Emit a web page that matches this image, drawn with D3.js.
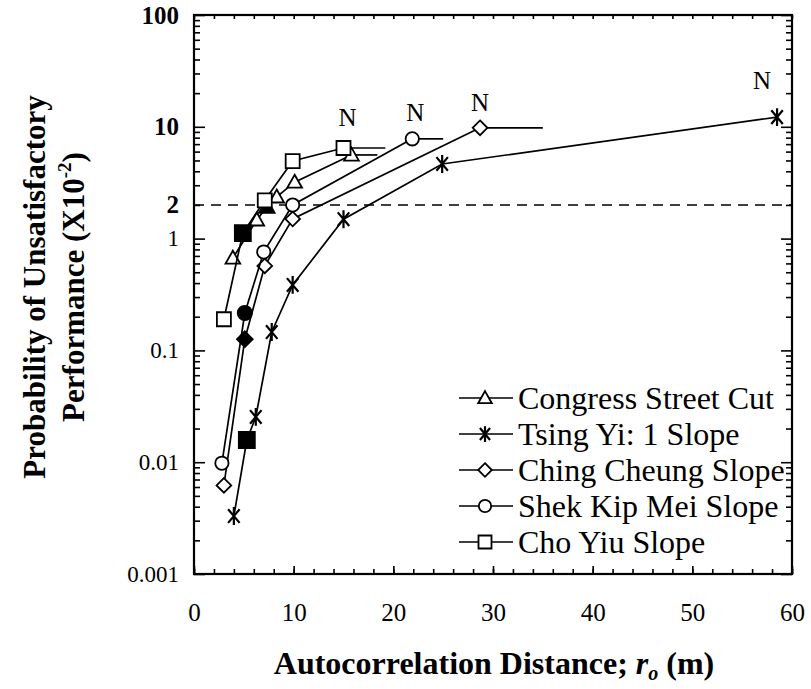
<!DOCTYPE html>
<html><head><meta charset="utf-8">
<script src="https://cdn.jsdelivr.net/npm/d3@7"></script>
<style>
body{margin:0;background:#fff;}
svg{display:block;}
</style></head>
<body>
<svg id="chart" width="811" height="689"></svg>
<script>
// ---- data ----
const seriesNames = ["Congress Street Cut","Tsing Yi: 1 Slope","Ching Cheung Slope","Shek Kip Mei Slope","Cho Yiu Slope"];
const seriesShapes = ["triangle","star","diamond","circle","square"];
const filledShapes = ["triangle","square","diamond","circle","square"];

const congressX = [3.9, 6.3, 7.3, 8.3, 10.1, 15.8];
const congressP = [0.67, 1.47, 1.92, 2.36, 3.2, 5.6];
const congressFilled = [0,0,1,0,0,0];

const tsingX = [4.0, 5.3, 6.2, 7.8, 9.9, 15.0, 24.9, 58.5];
const tsingP = [0.0033, 0.0158, 0.0254, 0.146, 0.385, 1.49, 4.65, 12.2];
const tsingFilled = [0,1,0,0,0,0,0,0];

const chingX = [3.0, 5.1, 7.1, 9.9, 28.7];
const chingP = [0.0062, 0.126, 0.57, 1.5, 9.8];
const chingFilled = [0,1,0,0,0];

const shekX = [2.8, 5.1, 7.0, 9.9, 21.9];
const shekP = [0.0098, 0.216, 0.76, 2.0, 7.8];
const shekFilled = [0,1,0,0,0];

const choX = [3.0, 4.9, 7.1, 9.9, 15.0];
const choP = [0.19, 1.12, 2.2, 4.94, 6.46];
const choFilled = [0,1,0,0,0];

const extendTo = [18.4, null, 35, 25, 19.2];

const thresholdP = 2;
const nLabelX = [15.4, 22.2, 28.7, 57.0];
const nLabelP = [12.2, 13.5, 16.7, 26.2];

const xTickLabels = [0,10,20,30,40,50,60];
const yTickLabels = [100,10,2,1,0.1,0.01,0.001];
const yBoldLabels = [100,10,2];

// ---- layout ----
const svg = d3.select("#chart");
const L = 194, R = 792, T = 15, B = 574;
const x = d3.scaleLinear().domain([0,60]).range([L,R]);
const y = d3.scaleLog().domain([0.001,100]).range([B,T]);
const serif = "'Liberation Serif','Times New Roman',serif";

const allX = [congressX,tsingX,chingX,shekX,choX];
const allP = [congressP,tsingP,chingP,shekP,choP];
const allF = [congressFilled,tsingFilled,chingFilled,shekFilled,choFilled];

const yMinor = [];
for (let e=-3;e<2;e++) for (let m=2;m<=9;m++) yMinor.push(m*Math.pow(10,e));
const yMajor = [0.001,0.01,0.1,1,10,100];
const xMinor = d3.range(0,61,2);

function styleAxis(g){
  g.select(".domain").remove();
  g.selectAll(".tick line").attr("stroke","#000").attr("stroke-width",1.6);
}
svg.append("g").attr("transform",`translate(${L},0)`)
  .call(d3.axisLeft(y).tickValues(yMinor).tickSize(-6).tickFormat("")).call(styleAxis);
svg.append("g").attr("transform",`translate(${L},0)`)
  .call(d3.axisLeft(y).tickValues(yMajor).tickSize(-11).tickFormat("")).call(styleAxis);
svg.append("g").attr("transform",`translate(${R},0)`)
  .call(d3.axisRight(y).tickValues(yMinor).tickSize(-6).tickFormat("")).call(styleAxis);
svg.append("g").attr("transform",`translate(${R},0)`)
  .call(d3.axisRight(y).tickValues(yMajor).tickSize(-11).tickFormat("")).call(styleAxis);
svg.append("g").attr("transform",`translate(0,${B})`)
  .call(d3.axisBottom(x).tickValues(xMinor).tickSize(-5).tickFormat("")).call(styleAxis);
svg.append("g").attr("transform",`translate(0,${B})`)
  .call(d3.axisBottom(x).tickValues(xTickLabels).tickSize(-8).tickFormat("")).call(styleAxis);
svg.append("g").attr("transform",`translate(0,${T})`)
  .call(d3.axisTop(x).tickValues(xMinor).tickSize(-4).tickFormat("")).call(styleAxis);

// tick labels
const yLab = svg.append("g").attr("transform",`translate(${L},0)`)
  .call(d3.axisLeft(y).tickValues(yTickLabels).tickSize(0).tickPadding(15)
    .tickFormat(d => String(d)));
yLab.select(".domain").remove();
yLab.selectAll("text").attr("font-family",serif).attr("fill","#000")
  .attr("font-size",d => yBoldLabels.includes(d) ? 25 : 23)
  .attr("font-weight",d => yBoldLabels.includes(d) ? "bold" : "normal");

const xLab = svg.append("g").attr("transform",`translate(0,${B})`)
  .call(d3.axisBottom(x).tickValues(xTickLabels).tickSize(0).tickPadding(29));
xLab.select(".domain").remove();
xLab.selectAll("text").attr("font-family",serif).attr("font-size",25).attr("fill","#000");

// frame
svg.append("rect").attr("x",L).attr("y",T).attr("width",R-L).attr("height",B-T)
  .attr("fill","none").attr("stroke","#000").attr("stroke-width",2.2);

// threshold dashed line
svg.append("line").attr("x1",x(0)).attr("x2",x(60)).attr("y1",y(thresholdP)).attr("y2",y(thresholdP))
  .attr("stroke","#000").attr("stroke-width",1.6).attr("stroke-dasharray","10,7");

function markerPath(shape, s){
  const h = s/2;
  switch(shape){
    case "square": return `M${-h},${-h}H${h}V${h}H${-h}Z`;
    case "triangle": return `M0,${-h*1.05}L${h*1.05},${h*0.8}L${-h*1.05},${h*0.8}Z`;
    case "diamond": return `M0,${-h*1.05}L${h*1.05},0L0,${h*1.05}L${-h*1.05},0Z`;
    case "circle": return d3.arc()({innerRadius:0,outerRadius:h*0.95,startAngle:0,endAngle:2*Math.PI});
    case "star": {
      const a = h*1.05, c = Math.cos(Math.PI*50/180)*a, sn = Math.sin(Math.PI*50/180)*a;
      return `M0,${-a}V${a}M${-c},${-sn}L${c},${sn}M${-c},${sn}L${c},${-sn}`;
    }
  }
}

const line = d3.line().x(d=>x(d[0])).y(d=>y(d[1]));

seriesNames.forEach((name,i)=>{
  const pts = allX[i].map((xv,j)=>[xv, allP[i][j], allF[i][j]]);
  const g = svg.append("g");
  g.append("path").attr("d",line(pts)).attr("fill","none").attr("stroke","#000").attr("stroke-width",1.7);
  if (extendTo[i] != null){
    const last = pts[pts.length-1];
    g.append("path").attr("d",line([[last[0],last[1]],[extendTo[i],last[1]]]))
      .attr("fill","none").attr("stroke","#000").attr("stroke-width",1.7);
  }
  g.selectAll("path.m").data(pts).join("path").attr("class","m")
    .attr("transform",d=>`translate(${x(d[0])},${y(d[1])})`)
    .attr("d",d=> d[2] ? markerPath(filledShapes[i], filledShapes[i]==="square"?16:15) : markerPath(seriesShapes[i], seriesShapes[i]==="star"?17:14))
    .attr("fill",d=> d[2] ? "#000" : (seriesShapes[i]==="star"?"none":"#fff"))
    .attr("stroke","#000").attr("stroke-width",d=> seriesShapes[i]==="star" && !d[2] ? 2.2 : 1.8);
});

// N labels
svg.append("g").selectAll("text").data(nLabelX.map((v,i)=>[v,nLabelP[i]])).join("text")
  .attr("x",d=>x(d[0])).attr("y",d=>y(d[1])).attr("dy","0.35em")
  .attr("text-anchor","middle").attr("font-family",serif).attr("font-size",25).attr("fill","#000")
  .text("N");

// legend
const lg = svg.append("g");
seriesNames.forEach((name,i)=>{
  const yy = 398 + i*36;
  lg.append("line").attr("x1",459).attr("x2",513).attr("y1",yy).attr("y2",yy)
    .attr("stroke","#000").attr("stroke-width",1.6);
  lg.append("path").attr("transform",`translate(485,${yy})`)
    .attr("d",markerPath(seriesShapes[i], seriesShapes[i]==="star"?15:13))
    .attr("fill",seriesShapes[i]==="star"?"none":"#fff").attr("stroke","#000")
    .attr("stroke-width",seriesShapes[i]==="star"?2.2:1.8);
  lg.append("text").attr("x",518).attr("y",yy).attr("dy","0.35em")
    .attr("font-family",serif).attr("font-size",32).attr("fill","#000").text(name);
});

// axis titles
const xt = svg.append("text").attr("x",494).attr("y",674).attr("text-anchor","middle")
  .attr("font-family",serif).attr("font-size",32).attr("font-weight","bold").attr("fill","#000");
xt.append("tspan").text("Autocorrelation Distance; ");
xt.append("tspan").attr("font-style","italic").text("r");
xt.append("tspan").attr("font-style","italic").attr("font-size",20).attr("dy",6).text("o");
xt.append("tspan").attr("dy",-6).text(" (m)");

const yt = svg.append("g").attr("transform","translate(0,287) rotate(-90)");
yt.append("text").attr("x",0).attr("y",45).attr("text-anchor","middle")
  .attr("font-family",serif).attr("font-size",31).attr("font-weight","bold").attr("fill","#000")
  .text("Probability of Unsatisfactory");
const yt2 = yt.append("text").attr("x",0).attr("y",84).attr("text-anchor","middle")
  .attr("font-family",serif).attr("font-size",31).attr("font-weight","bold").attr("fill","#000");
yt2.append("tspan").text("Performance (X10");
yt2.append("tspan").attr("font-size",19).attr("dy",-13).text("-2");
yt2.append("tspan").attr("dy",13).text(")");
</script>
</body></html>
